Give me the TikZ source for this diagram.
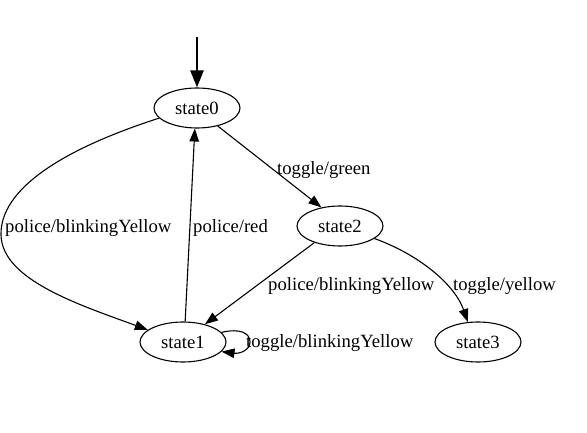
\documentclass[tikz,border=0pt]{standalone}
\usepackage{fontspec}
\setmainfont{Liberation Serif}
\usetikzlibrary{arrows.meta,shapes.geometric}
\begin{document}
\begin{tikzpicture}[x=1pt,y=-1pt,
  every node/.style={font=\fontsize{18.67}{22}\selectfont},
  st/.style={ellipse,draw,line width=1.1pt,minimum width=86pt,minimum height=40pt,inner sep=0pt},
  lbl/.style={anchor=west,inner sep=0pt},
  edge/.style={line width=1.1pt,-{Triangle[length=13pt,width=9.5pt]}},
  initedge/.style={line width=2.4pt,-{Triangle[length=17pt,width=13pt]}}]
\useasboundingbox (0,0) rectangle (587,433);
\node[st] (s0) at (197,108) {state0};
\node[st] (s2) at (340,226) {state2};
\node[st] (s1) at (183,342) {state1};
\node[st] (s3) at (478,342) {state3};
\coordinate (init) at (197,37);
\draw[initedge] (init) -- (s0.north);
% state0 -> state1 (left curve)
\draw[edge] (s0.195) .. controls (60,150) and (0,190) .. (1,235)
   .. controls (2,280) and (80,305) .. (s1.161);
\node[lbl] (l1) at (5,228) {police/blinkingYellow};
% state1 -> state0
\draw[edge] (s1.84) -- (s0.264);
\node[lbl] (l2) at (193,228) {police/red};
% state0 -> state2
\draw[edge] (s0.-41) -- (s2.135);
\node[lbl] (l3) at (277,170) {toggle/green};
% state2 -> state1
\draw[edge] (s2.213) -- (s1.39);
\node[lbl] (l4) at (268,286) {police/blinkingYellow};
% state2 -> state3
\draw[edge] (s2.-20) .. controls (420,255) and (455,285) .. (s3.117);
\node[lbl] (l5) at (453,286) {toggle/yellow};
% state1 self loop
\draw[edge] (s1.14) .. controls (240,328) and (250,333) .. (250,342)
   .. controls (250,350) and (240,354) .. (s1.-14);
\node[lbl] (l6) at (246,343) {toggle/blinkingYellow};
\end{tikzpicture}
\end{document}
